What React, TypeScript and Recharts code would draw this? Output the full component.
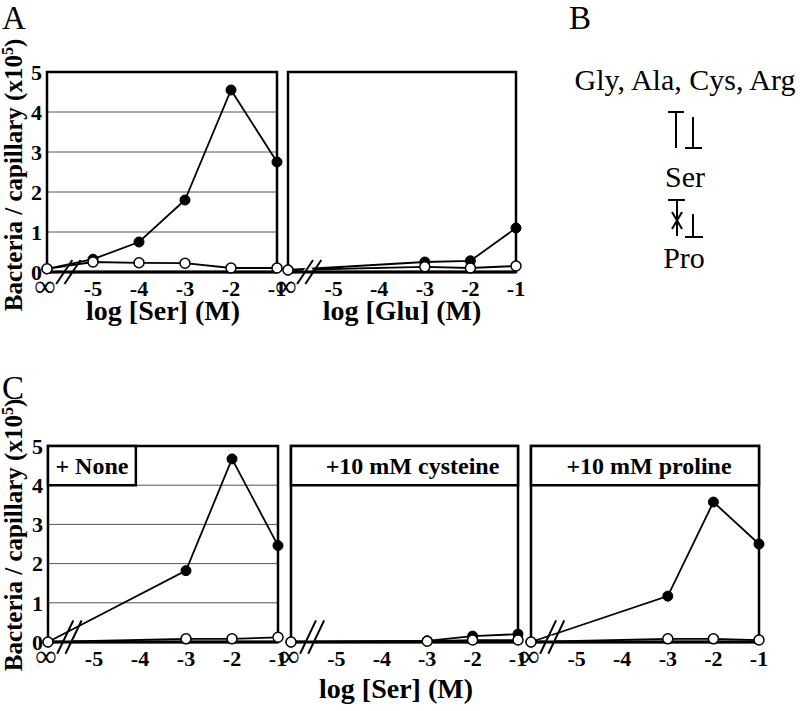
import React from "react";
import { LineChart, Line, XAxis, YAxis, CartesianGrid, ReferenceArea, ReferenceLine } from "recharts";

// x = log[conc] (M); -6 stands for the "∞" (no attractant) position left of the axis break
const xCats = [-6, -5, -4, -3, -2, -1];
const yTicks = [0, 1, 2, 3, 4, 5];

// A: serine / glutamate, bacteria per capillary (x10^5)
const serFilled = [0.08, 0.32, 0.75, 1.8, 4.55, 2.75];
const serOpen = [0.08, 0.25, 0.23, 0.22, 0.1, 0.1];
const gluFilled = [0.05, null, null, 0.25, 0.28, 1.1];
const gluOpen = [0.05, null, null, 0.13, 0.1, 0.15];

// C: serine with additions
const noneFilled = [0, null, null, 1.82, 4.67, 2.46];
const noneOpen = [0, null, null, 0.08, 0.08, 0.12];
const cysFilled = [0, null, null, 0.03, 0.15, 0.2];
const cysOpen = [0, null, null, 0.02, 0.05, 0.05];
const proFilled = [0, null, null, 1.17, 3.57, 2.5];
const proOpen = [0, null, null, 0.08, 0.08, 0.05];

const SERIF = "'Liberation Serif', 'Times New Roman', serif";

type Num = number | null;

function rowsOf(filled: Num[], open: Num[]) {
  return xCats.map((x, i) => ({ x, filled: filled[i], open: open[i] }));
}

function XTick({ x, y, payload }: any) {
  if (payload.value === -6) {
    return (
      <text x={x - 2} y={y + 24} textAnchor="middle" fontFamily={SERIF} fontSize={30} fill="#000">
        ∞
      </text>
    );
  }
  return (
    <text x={x} y={y + 24} textAnchor="middle" fontFamily={SERIF} fontWeight="bold" fontSize={22} fill="#000">
      {String(payload.value)}
    </text>
  );
}

type PanelProps = {
  left: number;
  top: number;
  w: number;
  h: number;
  filled: Num[];
  open: Num[];
  showY?: boolean;
  box?: { label: string; x2: number; dx: number };
  breakTop: number;
};

function Panel({ left, top, w, h, filled, open, showY, box, breakTop }: PanelProps) {
  const mL = 60;
  const mR = 12;
  const mT = 16;
  const axisH = 40;
  const data = rowsOf(filled, open);
  const b0 = -0.3;
  return (
    <div style={{ position: "absolute", left: left - mL, top: top - mT }}>
      <LineChart
        width={w + mL + mR}
        height={h + mT + axisH}
        data={data}
        margin={{ top: mT, right: mR, left: 0, bottom: 0 }}
      >
        <CartesianGrid vertical={false} stroke="#555" strokeWidth={1} />
        <XAxis
          dataKey="x"
          type="number"
          domain={[-6, -1]}
          ticks={xCats}
          tick={<XTick />}
          tickLine={false}
          tickSize={0}
          tickMargin={0}
          height={axisH}
          axisLine={{ stroke: "#000", strokeWidth: 3 }}
          interval={0}
        />
        <YAxis
          type="number"
          domain={[0, 5]}
          ticks={yTicks}
          width={mL}
          axisLine={false}
          tickLine={false}
          tickSize={0}
          tickMargin={5}
          tick={showY ? { fill: "#000", fontSize: 22, fontWeight: "bold", fontFamily: SERIF } : false}
          interval={0}
        />
        <ReferenceArea x1={-6} x2={-1} y1={0} y2={5} fill="none" stroke="#000" strokeWidth={2.5} />
        {box && (
          <ReferenceArea
            x1={-6}
            x2={box.x2}
            y1={4}
            y2={5}
            fill="#fff"
            fillOpacity={1}
            stroke="#000"
            strokeWidth={2.5}
            label={{
              value: box.label,
              position: "center",
              dx: box.dx,
              fill: "#000",
              fontSize: 24,
              fontWeight: "bold",
              fontFamily: SERIF,
            }}
          />
        )}
        <Line
          dataKey="filled"
          stroke="#000"
          strokeWidth={1.8}
          connectNulls
          dot={{ r: 5, fill: "#000", stroke: "#000", strokeWidth: 1 }}
          isAnimationActive={false}
        />
        <Line
          dataKey="open"
          stroke="#000"
          strokeWidth={1.8}
          connectNulls
          dot={{ r: 5, fill: "#fff", stroke: "#000", strokeWidth: 1.5 }}
          isAnimationActive={false}
        />
        {/* axis break "//" */}
        <ReferenceLine
          segment={[{ x: -5.72, y: -0.12 }, { x: -5.5, y: 0.12 }]}
          stroke="#fff"
          strokeWidth={6}
          ifOverflow="visible"
        />
        <ReferenceLine
          segment={[{ x: -5.8, y: b0 }, { x: -5.45, y: breakTop }]}
          stroke="#000"
          strokeWidth={2}
          ifOverflow="visible"
        />
        <ReferenceLine
          segment={[{ x: -5.62, y: b0 }, { x: -5.27, y: breakTop }]}
          stroke="#000"
          strokeWidth={2}
          ifOverflow="visible"
        />
      </LineChart>
    </div>
  );
}

function YLabel({ cx, cy }: { cx: number; cy: number }) {
  return (
    <text
      transform={`translate(${cx},${cy}) rotate(-90)`}
      textAnchor="middle"
      fontFamily={SERIF}
      fontWeight="bold"
      fontSize={25}
      fill="#000"
    >
      Bacteria / capillary (x10
      <tspan fontSize={16} dy={-9}>
        5
      </tspan>
      <tspan dy={9}>)</tspan>
    </text>
  );
}

export default function App() {
  const title = { fontFamily: SERIF, fontWeight: "bold" as const, fontSize: 28, textAnchor: "middle" as const };
  const plain = { fontFamily: SERIF, fontSize: 30, textAnchor: "middle" as const };
  return (
    <div style={{ position: "absolute", left: 0, top: 0, width: 800, height: 711, background: "#fff" }}>
      <Panel left={47} top={72} w={230} h={200} filled={serFilled} open={serOpen} showY breakTop={0.3} />
      <Panel left={288} top={72} w={228} h={200} filled={gluFilled} open={gluOpen} breakTop={0.3} />

      <Panel
        left={48}
        top={446}
        w={230}
        h={196}
        filled={noneFilled}
        open={noneOpen}
        showY
        box={{ label: "+ None", x2: -4.09, dx: 0 }}
        breakTop={0.55}
      />
      <Panel
        left={291}
        top={446}
        w={227}
        h={196}
        filled={cysFilled}
        open={cysOpen}
        box={{ label: "+10 mM cysteine", x2: -1, dx: 8 }}
        breakTop={0.55}
      />
      <Panel
        left={531}
        top={446}
        w={228}
        h={196}
        filled={proFilled}
        open={proOpen}
        box={{ label: "+10 mM proline", x2: -1, dx: 4 }}
        breakTop={0.55}
      />

      <svg width={800} height={711} style={{ position: "absolute", left: 0, top: 0, pointerEvents: "none" }}>
        <text x={2} y={29} fontFamily={SERIF} fontSize={33}>A</text>
        <text x={569} y={29} fontFamily={SERIF} fontSize={33}>B</text>
        <text x={2} y={399} fontFamily={SERIF} fontSize={33}>C</text>

        <YLabel cx={22} cy={175} />
        <YLabel cx={22} cy={535} />

        <text x={163} y={320} {...title}>log [Ser] (M)</text>
        <text x={402} y={320} {...title}>log [Glu] (M)</text>
        <text x={396} y={698} {...title}>log [Ser] (M)</text>

        {/* B: schematic */}
        <text x={685} y={90} {...plain}>Gly, Ala, Cys, Arg</text>
        <text x={685} y={187} {...plain}>Ser</text>
        <text x={684} y={268} {...plain}>Pro</text>
        <g stroke="#000" strokeWidth={2} fill="none">
          <line x1={676} y1={112} x2={676} y2={148} />
          <line x1={668} y1={112} x2={684} y2={112} />
          <line x1={693} y1={117} x2={693} y2={148} />
          <line x1={685} y1={148} x2={702} y2={148} />

          <line x1={677} y1={200} x2={677} y2={236} />
          <line x1={668} y1={200} x2={685} y2={200} />
          <line x1={672} y1={212} x2={682} y2={229} />
          <line x1={682} y1={212} x2={672} y2={229} />
          <line x1={693} y1={214} x2={693} y2={237} />
          <line x1={685} y1={237} x2={703} y2={237} />
        </g>
      </svg>
    </div>
  );
}
